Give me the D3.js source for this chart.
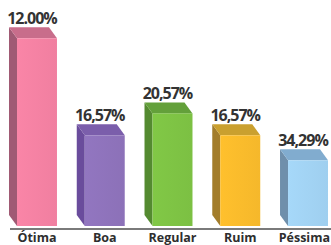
<!DOCTYPE html>
<html lang="pt">
<head>
    <meta charset="utf-8">
    <title></title>
    <script src="https://d3js.org/d3.v7.min.js"></script>
    <style type="text/css">
        body{
            margin: 0;
            background: #fff;
        }
        svg{
            display: block;
        }
        .val{
            font-family: "Open Sans", sans-serif;
            font-weight: 700;
            font-size: 16px;
            letter-spacing: -1px;
            fill: #333;
        }
        .cat{
            font-family: "Open Sans", sans-serif;
            font-weight: 700;
            font-size: 12.5px;
            fill: #2e2e2e;
        }
    </style>
</head>
<body>
    <div id="chart"></div>

    <script type="text/javascript">

        const categories = ['Ótima', 'Boa', 'Regular', 'Ruim', 'Péssima'];
        // heights as drawn in the picture
        const values = [34.29, 16.57, 20.57, 16.57, 12.00];
        // labels exactly as printed above each bar
        const valueLabels = ['12.00%', '16,57%', '20,57%', '16,57%', '34,29%'];
        const frontColors = ['#f07fa0', '#8c71b8', '#7cc043', '#f5b82b', '#9fcfef'];
        const topColors   = ['#c86d8b', '#7b5eab', '#63a03a', '#caa02f', '#81accf'];
        const sideColors  = ['#a05a74', '#6a4c9c', '#548a30', '#a37d2b', '#6f8fab'];

        const width = 331, height = 245;
        const base = 226;
        const dx = 8, dy = 11;

        const svg = d3.select("#chart").append("svg")
            .attr("width", width)
            .attr("height", height);

        const x = d3.scaleBand()
            .domain(categories)
            .range([17, 328])
            .paddingInner(0.41)
            .paddingOuter(0);

        const y = d3.scaleLinear()
            .domain([0, 40])
            .range([base, base - 219]);

        const defs = svg.append("defs");
        frontColors.forEach((c, i) => {
            const g = defs.append("linearGradient")
                .attr("id", "g" + i)
                .attr("x1", 0).attr("x2", 1).attr("y1", 0).attr("y2", 0);
            g.append("stop").attr("offset", "0%").attr("stop-color", d3.color(c).brighter(0.12));
            g.append("stop").attr("offset", "100%").attr("stop-color", c);
        });

        const bars = svg.selectAll("g.bar")
            .data(categories)
            .enter()
            .append("g")
            .attr("class", "bar");

        // left side face
        bars.append("polygon")
            .attr("points", (d, i) => {
                const x0 = x(d), t = y(values[i]);
                return [[x0 - dx, t - dy], [x0, t], [x0, base], [x0 - dx, base - dy]].join(" ");
            })
            .style("fill", (d, i) => sideColors[i]);

        // top face
        bars.append("polygon")
            .attr("points", (d, i) => {
                const x0 = x(d), w = x.bandwidth(), t = y(values[i]);
                return [[x0 - dx, t - dy], [x0 + w - dx, t - dy], [x0 + w, t], [x0, t]].join(" ");
            })
            .style("fill", (d, i) => topColors[i]);

        // front face
        bars.append("rect")
            .attr("x", d => x(d))
            .attr("y", (d, i) => y(values[i]))
            .attr("width", x.bandwidth())
            .attr("height", (d, i) => base - y(values[i]))
            .style("fill", (d, i) => "url(#g" + i + ")");

        bars.append("text")
            .attr("class", "val")
            .attr("x", d => x(d) + x.bandwidth() / 2 - dx / 2 - 1)
            .attr("y", (d, i) => y(values[i]) - dy - 3)
            .attr("text-anchor", "middle")
            .text((d, i) => valueLabels[i]);

        // baseline
        svg.append("line")
            .attr("x1", 10)
            .attr("x2", width)
            .attr("y1", base + 3)
            .attr("y2", base + 3)
            .style("stroke", "#7a7a7a")
            .style("stroke-width", 2);

        const axis = d3.axisBottom(x).tickSize(0).tickPadding(0);
        const ax = svg.append("g")
            .attr("transform", "translate(0," + 242 + ")")
            .call(axis);
        ax.select(".domain").remove();
        ax.selectAll("text")
            .attr("class", "cat")
            .attr("dy", null)
            .attr("y", 0)
            .attr("x", 0);

        // keep the last label inside the frame
        ax.selectAll(".tick").each(function (d) {
            const t = d3.select(this).select("text");
            const half = t.node().getComputedTextLength() / 2;
            const cx = x(d) + x.bandwidth() / 2;
            if (cx + half > width - 1) t.attr("x", width - 1 - half - cx);
        });

    </script>
</body>
</html>
